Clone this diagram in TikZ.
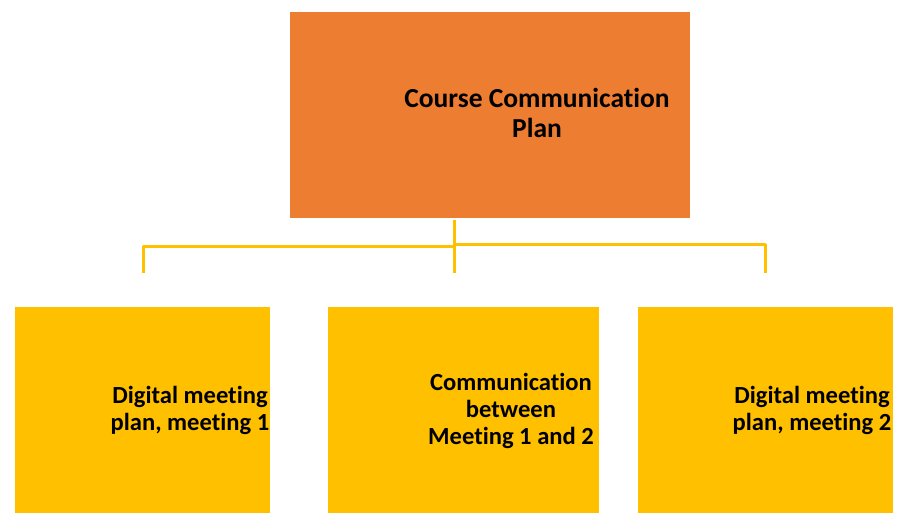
\documentclass[tikz,border=0pt]{standalone}
\usepackage{fontspec}
\setmainfont{Carlito}[Ligatures=NoCommon]
\definecolor{planorange}{HTML}{ED7D31}
\definecolor{planyellow}{HTML}{FFC000}
\begin{document}
\begin{tikzpicture}[x=1pt, y=-1pt, line join=round,
  topbox/.style={fill=planorange, minimum width=400pt, minimum height=206pt, inner sep=0pt},
  subbox/.style={fill=planyellow, minimum height=206pt, inner sep=0pt},
  boxtext/.style={font=\bfseries\fontsize{27.5}{30}\selectfont, align=center, inner sep=0pt},
  subtext/.style={font=\bfseries\fontsize{24.6}{27}\selectfont, align=center, inner sep=0pt},
  branch/.style={draw=planyellow, line width=3pt}]
\useasboundingbox (0,0) rectangle (907,528);
% boxes
\node[topbox] (plan) at (490,115) {};
\node[subbox, minimum width=255pt] (meetA) at (142.5,410) {};
\node[subbox, minimum width=271pt] (between) at (463.5,410) {};
\node[subbox, minimum width=255pt] (meetB) at (765.5,410) {};
% texts
\node[boxtext] (plantext) at (537,113) {Course Communication\\Plan};
\node[subtext] (meetAtext) at (190,410) {Digital meeting\\plan, meeting 1};
\node[subtext] (betweentext) at (511,411) {Communication\\between\\Meeting 1 and 2};
\node[subtext] (meetBtext) at (812,410) {Digital meeting\\plan, meeting 2};
% branch lines
\coordinate (top) at (454,220);
\coordinate (mid) at (454,245);
\coordinate (legA) at (143,246);
\coordinate (legB) at (765,244);
\foreach \x in {143,454,765}
\coordinate (end\x) at (\x,273);
\draw[branch] (top)--(end454);
\draw[branch] (mid|-legA)--(legA)--(end143);
\draw[branch] (mid|-legB)--(legB)--(end765);
\end{tikzpicture}
\end{document}
